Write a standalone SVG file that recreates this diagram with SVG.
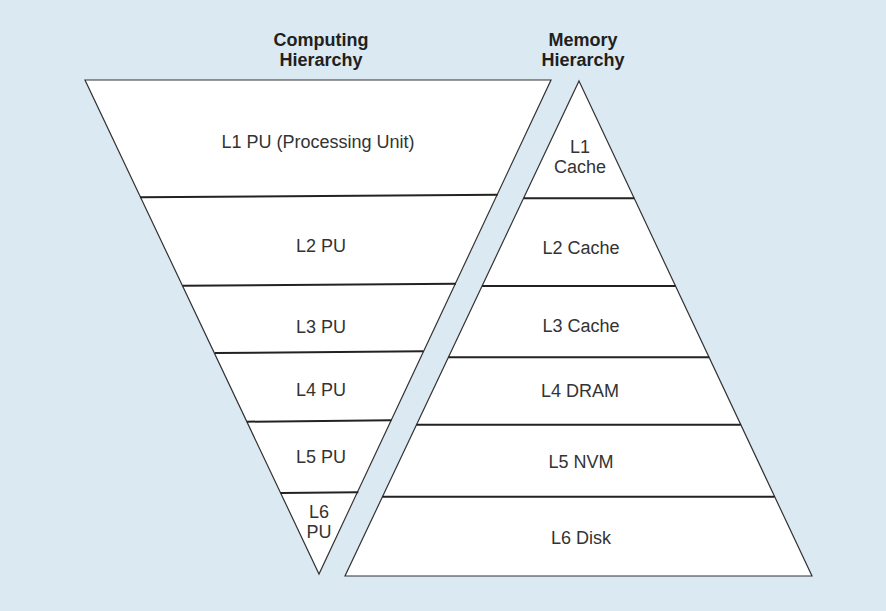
<svg xmlns="http://www.w3.org/2000/svg" width="886" height="611" viewBox="0 0 886 611">
<style>
.bg{fill:#dbe9f2}
.layer{fill:#ffffff;stroke:none}
.lbl{font-family:"Liberation Sans",Arial,sans-serif;font-size:18px;fill:#333333;text-anchor:middle}
.ttl{font-family:"Liberation Sans",Arial,sans-serif;font-size:18px;font-weight:bold;fill:#231f20;text-anchor:middle}
.edge{fill:none;stroke:#333333;stroke-width:1.2;stroke-linejoin:miter}
.div{fill:none;stroke:#222222;stroke-width:2}
</style>
<rect class="bg" x="0" y="0" width="886" height="611"/>
<g id="title-computing"><text class="ttl" x="321" y="46">Computing</text><text class="ttl" x="321" y="66">Hierarchy</text></g>
<g id="title-memory"><text class="ttl" x="583" y="46">Memory</text><text class="ttl" x="583" y="66">Hierarchy</text></g>
<g id="pu-l1"><polygon class="layer" points="85,80 551,80 497.7,194.7 140,197.3"/><text class="lbl" x="318" y="147.5">L1 PU (Processing Unit)</text></g>
<g id="pu-l2"><polygon class="layer" points="140,197.3 497.7,194.7 456,283.7 182.7,285.7"/><text class="lbl" x="321" y="252">L2 PU</text></g>
<g id="pu-l3"><polygon class="layer" points="182.7,285.7 456,283.7 423.3,351.3 215,353"/><text class="lbl" x="321" y="332.5">L3 PU</text></g>
<g id="pu-l4"><polygon class="layer" points="215,353 423.3,351.3 391.3,420.3 247,421.7"/><text class="lbl" x="321" y="395.5">L4 PU</text></g>
<g id="pu-l5"><polygon class="layer" points="247,421.7 391.3,420.3 358.3,492.3 280.7,493"/><text class="lbl" x="321" y="462.5">L5 PU</text></g>
<g id="pu-l6"><polygon class="layer" points="280.7,493 358.3,492.3 319,574"/><text class="lbl" x="319" y="517.5">L6</text><text class="lbl" x="319" y="538">PU</text></g>
<g id="mem-l1"><polygon class="layer" points="579,81 634.2,198.3 523.6,198.3"/><text class="lbl" x="580" y="153">L1</text><text class="lbl" x="580" y="173.3">Cache</text></g>
<g id="mem-l2"><polygon class="layer" points="523.6,198.3 634.2,198.3 675.5,286 482.1,286"/><text class="lbl" x="581" y="253.5">L2 Cache</text></g>
<g id="mem-l3"><polygon class="layer" points="482.1,286 675.5,286 709.1,357.3 448.4,357.3"/><text class="lbl" x="581" y="331.5">L3 Cache</text></g>
<g id="mem-l4"><polygon class="layer" points="448.4,357.3 709.1,357.3 740.8,424.7 416.5,424.7"/><text class="lbl" x="580" y="396.5">L4 DRAM</text></g>
<g id="mem-l5"><polygon class="layer" points="416.5,424.7 740.8,424.7 774.7,496.7 382.5,496.7"/><text class="lbl" x="581" y="467.5">L5 NVM</text></g>
<g id="mem-l6"><polygon class="layer" points="382.5,496.7 774.7,496.7 812,576 345,576"/><text class="lbl" x="581" y="543.5">L6 Disk</text></g>
<g id="connectors">
<polygon class="edge" points="85,80 551,80 319,574"/>
<polygon class="edge" points="579,81 812,576 345,576"/>
<line class="div" x1="140" y1="197.3" x2="497.7" y2="194.7"/>
<line class="div" x1="182.7" y1="285.7" x2="456" y2="283.7"/>
<line class="div" x1="215" y1="353" x2="423.3" y2="351.3"/>
<line class="div" x1="247" y1="421.7" x2="391.3" y2="420.3"/>
<line class="div" x1="280.7" y1="493" x2="358.3" y2="492.3"/>
<line class="div" x1="523.6" y1="198.3" x2="634.2" y2="198.3"/>
<line class="div" x1="482.1" y1="286" x2="675.5" y2="286"/>
<line class="div" x1="448.4" y1="357.3" x2="709.1" y2="357.3"/>
<line class="div" x1="416.5" y1="424.7" x2="740.8" y2="424.7"/>
<line class="div" x1="382.5" y1="496.7" x2="774.7" y2="496.7"/>
</g>
</svg>
